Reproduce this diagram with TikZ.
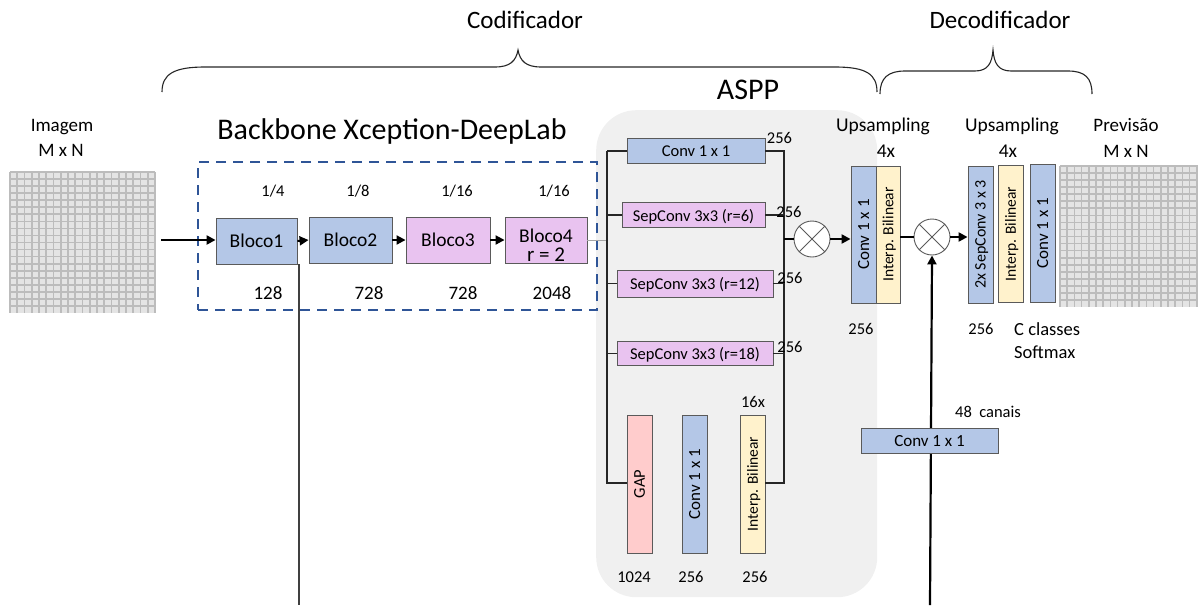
\documentclass[tikz,border=0pt]{standalone}
\usepackage{fontspec}
\setmainfont{Carlito}
\usetikzlibrary{arrows.meta}
\definecolor{edge}{RGB}{90,90,90}
\definecolor{bfill}{RGB}{180,199,231}
\definecolor{vfill}{RGB}{233,195,240}
\definecolor{pfill}{RGB}{255,204,204}
\definecolor{yfill}{RGB}{255,242,204}
\definecolor{dashblue}{RGB}{47,85,151}
\definecolor{asppbg}{RGB}{240,240,240}
\definecolor{gridbg}{RGB}{228,228,228}
\definecolor{gridln}{RGB}{188,188,188}
\newcommand\myfs[1]{\fontsize{#1}{#1}\selectfont}
\begin{document}
\begin{tikzpicture}[x=1pt,y=-1pt,
  lbl/.style={inner sep=0pt, text depth=0pt},
  blk/.style={draw=edge, line width=0.9pt, inner sep=0pt, text depth=0pt},
  vblk/.style={blk, minimum width=25, minimum height=137},
  hblk/.style={blk, minimum height=25, font=\myfs{16.5}},
  bloco/.style={blk, minimum height=46, font=\myfs{19.5}},
  vtxt/.style={lbl, rotate=90},
  wire/.style={line width=1.2pt, draw=black!85},
  heavy/.style={line width=2.2pt},
  tip/.style={-{Triangle[length=9pt,width=9pt]}},
  mix/.style={circle, draw=edge, line width=0.9pt, fill=white, minimum size=36, inner sep=0pt},
  cross/.style={draw=edge, line width=0.8pt},
  gridline/.style={draw=gridln, line width=1.7pt},
  brace/.style={draw=black!85, line width=1.1pt},
]
\useasboundingbox (0,0) rectangle (1198,605);

% ---------- section braces ----------
\node[lbl, font=\myfs{25}] (tenc) at (525,19.5) {Codificador};
\node[lbl, font=\myfs{25}] (tdec) at (1000,19.5) {Decodificador};
\draw[brace] (162,92) .. controls (162,74) and (174,67) .. (205,67) -- (495,67)
  .. controls (510,67) and (516,61) .. (518,50)
  .. controls (520,61) and (526,67) .. (541,67) -- (835,67)
  .. controls (866,67) and (877,74) .. (877,92);
\draw[brace] (880,94) .. controls (880,78) and (888,71) .. (905,71) -- (975,71)
  .. controls (988,71) and (992,63) .. (993,50)
  .. controls (994,63) and (998,71) .. (1011,71) -- (1068,71)
  .. controls (1085,71) and (1092,78) .. (1092,94);

% ---------- ASPP background ----------
\node[fill=asppbg, rounded corners=40pt, minimum width=281, minimum height=487, inner sep=0pt, anchor=north west] (asppbox) at (596,110) {};
\node[lbl, font=\myfs{30}] (taspp) at (748,90) {ASPP};

% ---------- input image ----------
\node[lbl, font=\myfs{19}] (timg) at (62,125) {Imagem};
\node[lbl, font=\myfs{19}] (timgsz) at (61,150) {M x N};
\node[fill=gridbg, minimum width=145, minimum height=141, inner sep=0pt, anchor=north west] (img) at (10,172) {};
\foreach \i in {0,...,20} {
  \draw[gridline] (10+\i*7.25,172) -- (10+\i*7.25,313);
}
\foreach \j in {0,...,19} {
  \draw[gridline] (10,172+\j*7.05) -- (155,172+\j*7.05);
}

% ---------- backbone ----------
\node[lbl, font=\myfs{30}] (tbb) at (392,129) {Backbone Xception-DeepLab};
\node[draw=dashblue, line width=2.4pt, dash pattern=on 10pt off 7pt, minimum width=399, minimum height=148, inner sep=0pt, anchor=north west] (bbbox) at (197,161) {};

\node[bloco, fill=bfill, minimum width=81] (b1) at (256.5,241) {Bloco1};
\node[bloco, fill=bfill, minimum width=83] (b2) at (350.5,240) {Bloco2};
\node[bloco, fill=vfill, minimum width=84] (b3) at (448,240) {Bloco3};
\node[bloco, fill=vfill, minimum width=82] (b4) at (546,240) {};
\node[lbl, font=\myfs{19.5}] (b4a) at (546,236) {Bloco4};
\node[lbl, font=\myfs{21}] (b4b) at (546,255) {r = 2};

\foreach \n/\t/\x in {f1/1\slash4/273, f2/1\slash8/358, f3/1\slash16/457, f4/1\slash16/554} {
  \node[lbl, font=\myfs{16.5}] (\n) at (\x,191) {\t};
}
\foreach \n/\t/\x in {c1/128/268, c2/728/369, c3/728/463, c4/2048/552} {
  \node[lbl, font=\myfs{19}] (\n) at (\x,293) {\t};
}

\coordinate (inarrow) at (161,240);
\draw[line width=2.4pt, tip] (inarrow) -- (b1.west |- inarrow);
\draw[line width=2pt, tip] (b1.east) -- (b2.west);
\draw[line width=2pt, tip] (b2.east) -- (b3.west);
\draw[line width=2pt, tip] (b3.east) -- (b4.west);

% low-level features leaving Bloco1
\coordinate (lowbot) at (299,605);
\draw[line width=1.5pt, draw=black!75] (b1.south east -| lowbot) -- (lowbot);

% ---------- ASPP branches ----------
\node[hblk, fill=bfill, minimum width=138] (a1) at (696,151) {Conv 1 x 1};
\node[hblk, fill=vfill, minimum width=143] (a2) at (693.5,215) {SepConv 3x3 (r=6)};
\node[hblk, fill=vfill, minimum width=156, minimum height=27] (a3) at (695,283.5) {SepConv 3x3 (r=12)};
\node[hblk, fill=vfill, minimum width=156, minimum height=24] (a4) at (695,353.5) {SepConv 3x3 (r=18)};

\node[vblk, fill=pfill, minimum height=138] (gap) at (639.5,484) {};
\node[vtxt, font=\myfs{16.5}] (gapt) at (gap) {GAP};
\node[vblk, fill=bfill, minimum height=138] (gconv) at (694.5,484) {};
\node[vtxt, font=\myfs{17}] (gconvt) at (gconv) {Conv 1 x 1};
\node[vblk, fill=yfill, minimum height=138] (ginterp) at (752.5,484) {};
\node[vtxt, font=\myfs{15.5}] (ginterpt) at (ginterp) {Interp. Bilinear};

\coordinate (splitTop) at (607,151);
\coordinate (splitBot) at (607,483);
\coordinate (joinTop) at (784,151);
\coordinate (joinBot) at (784,483);
\coordinate (joinMid) at (784,239);

\draw[line width=1pt, draw=black!35] (b4.east) -- (b4.east -| splitTop);
\draw[wire] (splitTop) -- (splitBot) -- (gap.west |- splitBot);
\draw[wire] (splitTop) -- (a1.west);
\draw[wire] (a2.west -| splitTop) -- (a2.west);
\draw[wire] (a3.west -| splitTop) -- (a3.west);
\draw[wire] (a4.west -| splitTop) -- (a4.west);
\draw[wire] (a1.east) -- (joinTop) -- (joinBot) -- (ginterp.east |- joinBot);
\draw[wire] (a2.east) -- (a2.east -| joinTop);
\draw[wire] (a3.east) -- (a3.east -| joinTop);
\draw[wire] (a4.east) -- (a4.east -| joinTop);

\node[lbl, font=\myfs{16.5}] (n1) at (779.5,138) {256};
\node[lbl, font=\myfs{16.5}] (n2) at (789,212) {256};
\node[lbl, font=\myfs{16.5}] (n3) at (790,278) {256};
\node[lbl, font=\myfs{16.5}] (n4) at (790,347) {256};
\node[lbl, font=\myfs{16.5}] (n16) at (753,402) {16x};
\node[lbl, font=\myfs{16.5}] (n5) at (634,577) {1024};
\node[lbl, font=\myfs{16.5}] (n6) at (691,577) {256};
\node[lbl, font=\myfs{16.5}] (n7) at (755,577) {256};

% ---------- first concatenation ----------
\node[mix] (m1) at (812,239) {};
\draw[cross] (m1.north west) -- (m1.south east);
\draw[cross] (m1.north east) -- (m1.south west);
\draw[heavy] (joinMid) -- (m1.west);

% ---------- decoder ----------
\node[vblk, fill=bfill] (dconv) at (863.5,234.5) {};
\node[vtxt, font=\myfs{17}] (dconvt) at (dconv) {Conv 1 x 1};
\node[vblk, fill=yfill, minimum width=24] (dinterp) at (888,234.5) {};
\node[vtxt, font=\myfs{15.5}] (dinterpt) at (dinterp) {Interp. Bilinear};
\draw[heavy, tip] (m1.east) -- (dconv.west |- m1.east);

\node[lbl, font=\myfs{19.5}] (up1) at (883,125) {Upsampling};
\node[lbl, font=\myfs{19.5}] (up1x) at (886,151) {4x};
\node[lbl, font=\myfs{16.5}] (d256a) at (861,329) {256};

\node[mix] (m2) at (932,237) {};
\draw[cross] (m2.north west) -- (m2.south east);
\draw[cross] (m2.north east) -- (m2.south west);
\draw[heavy] (dinterp.east |- m2.west) -- (m2.west);

\node[vblk, fill=bfill] (sep2) at (980.5,234.5) {};
\node[vtxt, font=\myfs{16}] (sep2t) at (sep2) {2x SepConv 3 x 3};
\node[vblk, fill=yfill] (dinterp2) at (1010.5,234) {};
\node[vtxt, font=\myfs{15.5}] (dinterp2t) at (dinterp2) {Interp. Bilinear};
\node[vblk, fill=bfill, minimum height=138] (fconv) at (1042.5,233) {};
\node[vtxt, font=\myfs{17}] (fconvt) at (fconv) {Conv 1 x 1};
\draw[heavy, tip] (m2.east) -- (sep2.west |- m2.east);

\node[lbl, font=\myfs{19.5}] (up2) at (1012,125) {Upsampling};
\node[lbl, font=\myfs{19.5}] (up2x) at (1008,151) {4x};
\node[lbl, font=\myfs{16.5}] (d256b) at (981,329) {256};
\node[lbl, font=\myfs{18.5}, anchor=west] (cls) at (1014,329) {C classes};
\node[lbl, font=\myfs{18.5}, anchor=west] (smax) at (1014,352) {Softmax};

% skip connection from the low-level features
\coordinate (skipbot) at (930,605);
\draw[heavy, tip] (skipbot) -- (m2.south);
\node[hblk, fill=bfill, minimum width=137, font=\myfs{17}] (skipconv) at (929.5,440.5) {Conv 1 x 1};
\node[lbl, font=\myfs{16.5}] (ch48) at (988,412) {48\ \ canais};

% ---------- prediction ----------
\node[lbl, font=\myfs{19}] (tpred) at (1126,125) {Previsão};
\node[lbl, font=\myfs{19}] (tpredsz) at (1126,151) {M x N};
\node[fill=gridbg, minimum width=138, minimum height=141, inner sep=0pt, anchor=north west] (pred) at (1060,166) {};
\foreach \i in {0,...,19} {
  \draw[gridline] (1060+\i*7.2,166) -- (1060+\i*7.2,307);
}
\foreach \j in {0,...,19} {
  \draw[gridline] (1060,166+\j*7.05) -- (1198,166+\j*7.05);
}
\end{tikzpicture}
\end{document}
